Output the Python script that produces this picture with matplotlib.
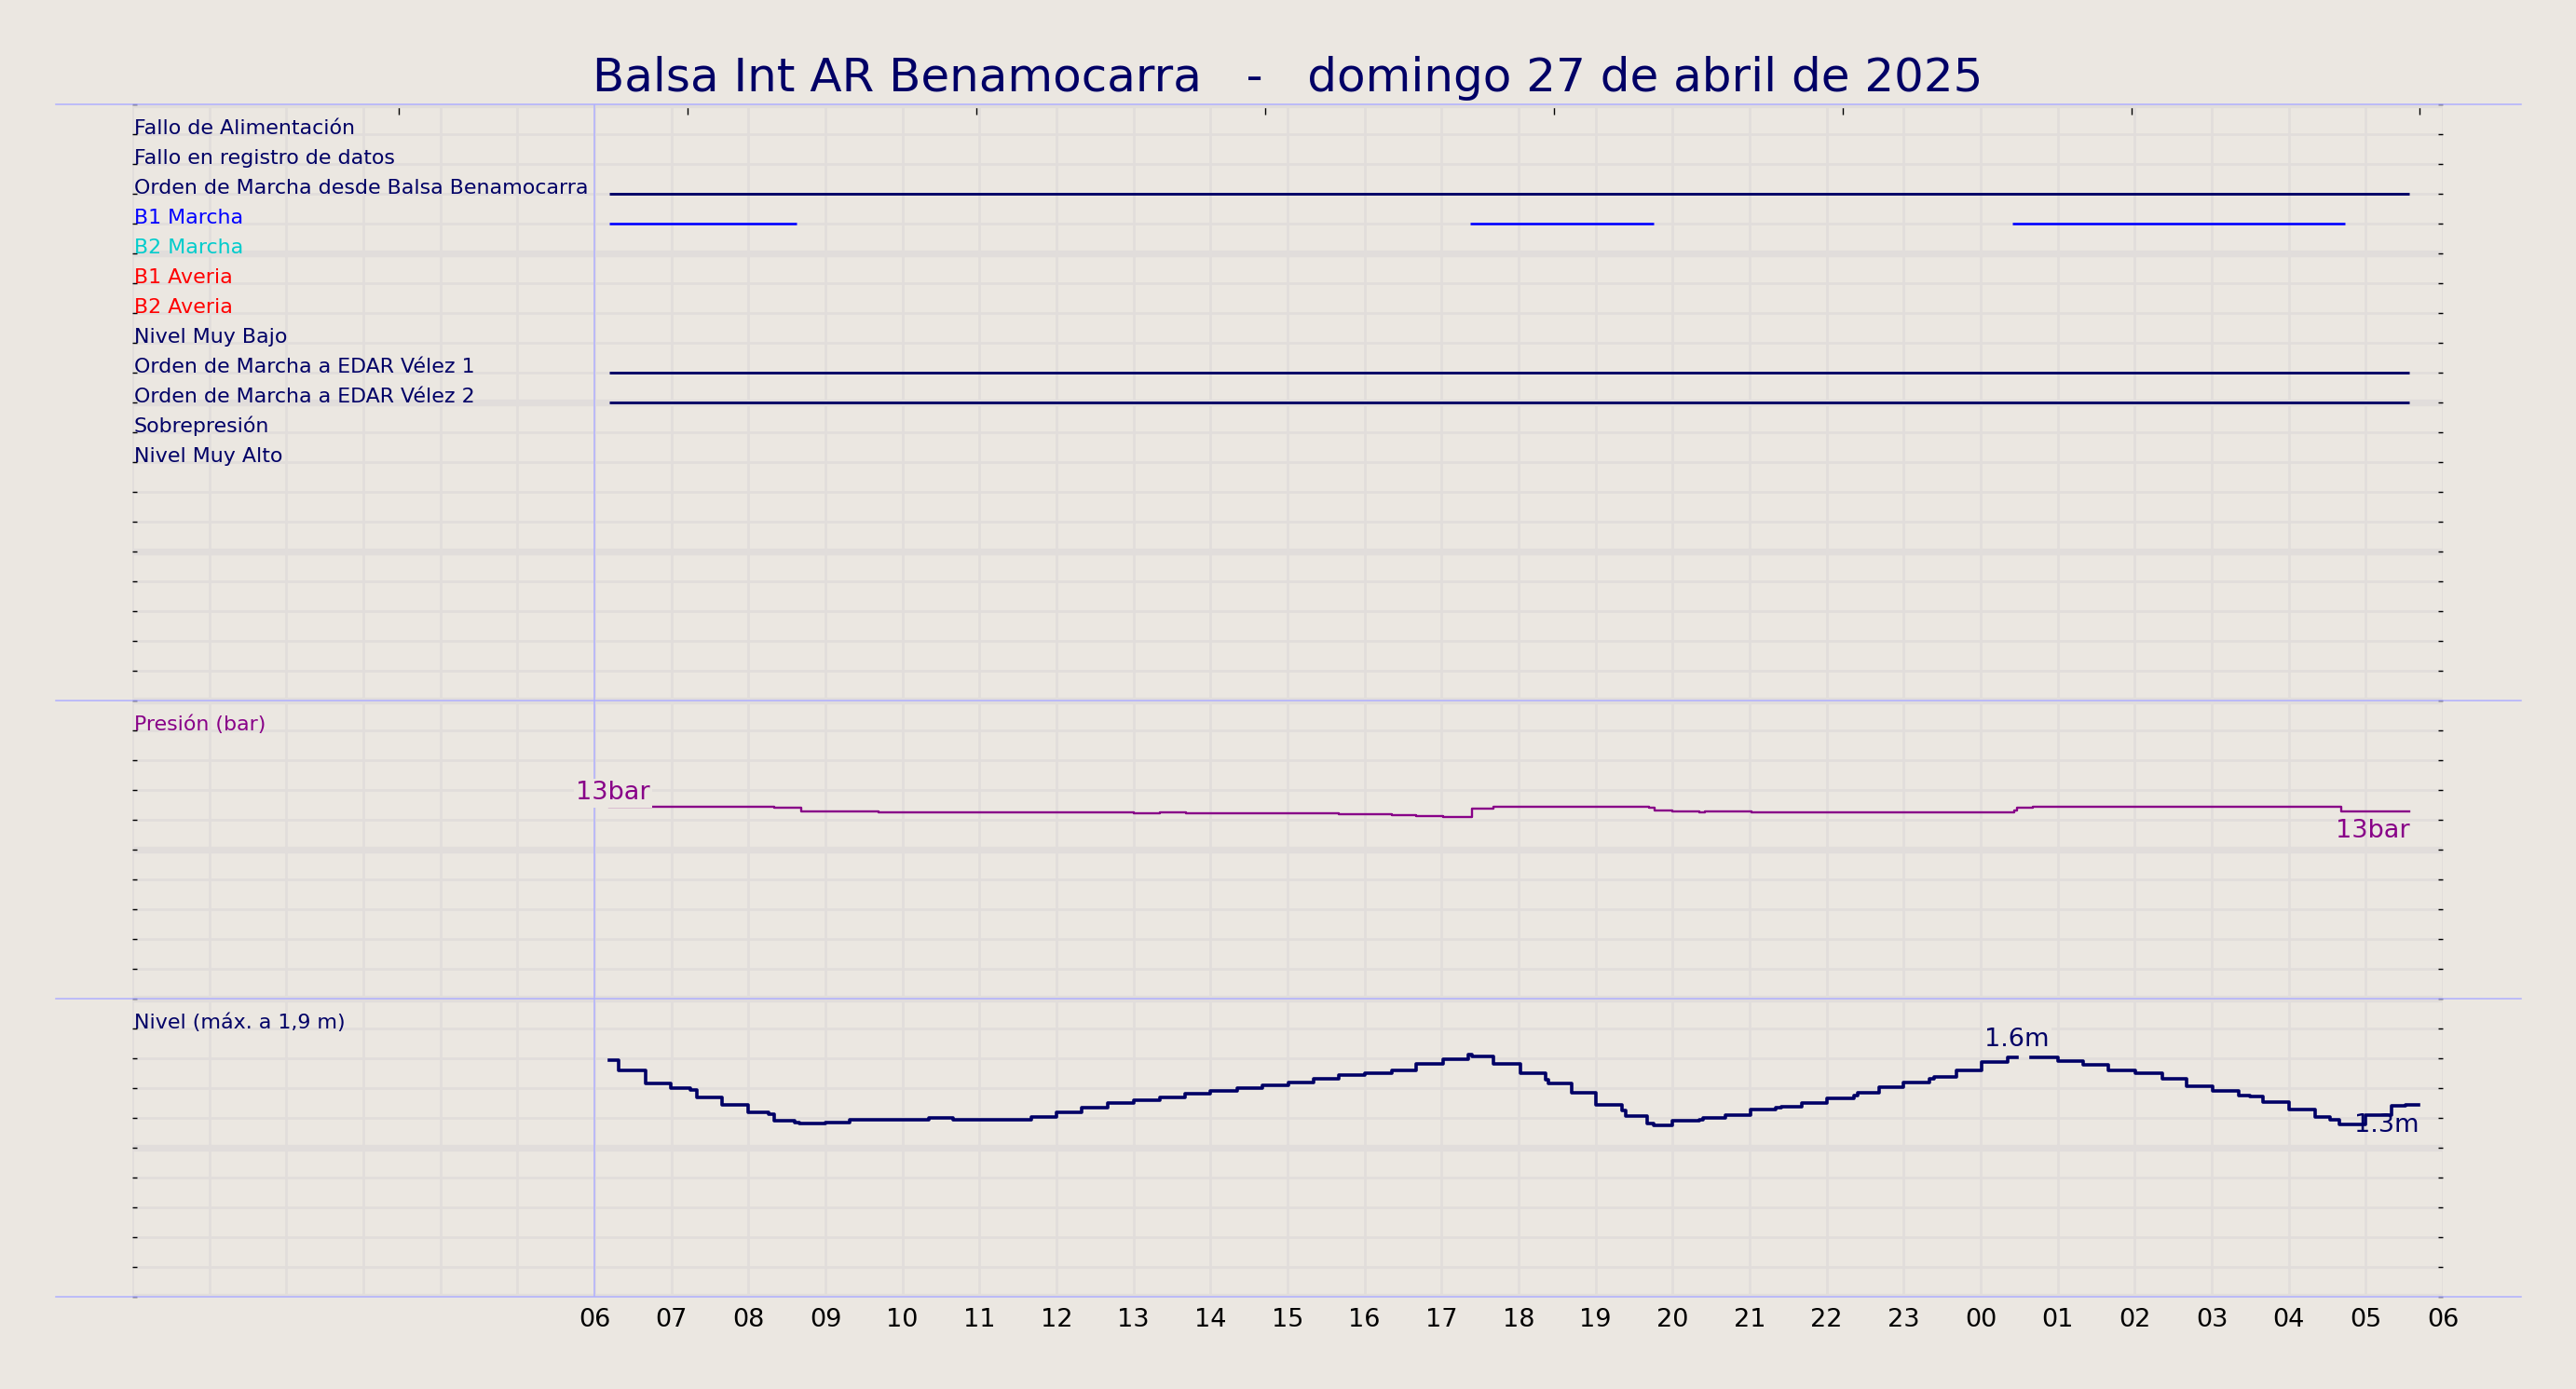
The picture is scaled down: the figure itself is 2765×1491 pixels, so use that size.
import numpy as np
import matplotlib
matplotlib.use("Agg")
import matplotlib.pyplot as plt
from matplotlib.lines import Line2D
from matplotlib.transforms import blended_transform_factory

# ---------------- data ----------------
title = "Balsa Int AR Benamocarra   -   domingo 27 de abril de 2025"

signal_names = ["Fallo de Alimentación", "Fallo en registro de datos",
                "Orden de Marcha desde Balsa Benamocarra", "B1 Marcha", "B2 Marcha",
                "B1 Averia", "B2 Averia", "Nivel Muy Bajo",
                "Orden de Marcha a EDAR Vélez 1", "Orden de Marcha a EDAR Vélez 2",
                "Sobrepresión", "Nivel Muy Alto"]
signal_colors = ["#000066", "#000066", "#000066", "#0000FF", "#00CCCC",
                 "#FF0000", "#FF0000", "#000066", "#000066", "#000066",
                 "#000066", "#000066"]
# active intervals (hours after 06:00)
signal_on = [[], [], [(0.19, 23.56)],
             [(0.19, 2.63), (11.37, 13.76), (18.41, 22.73)],
             [], [], [], [], [(0.19, 23.56)], [(0.19, 23.56)], [], []]

hour_labels = ["06", "07", "08", "09", "10", "11", "12", "13", "14", "15", "16", "17",
               "18", "19", "20", "21", "22", "23", "00", "01", "02", "03", "04", "05", "06"]
top_ticks = [-2.54, 1.21, 4.96, 8.71, 12.46, 16.21, 19.96, 23.70]

pres_t = [0.19, 2.34, 2.69, 3.69, 7.00, 7.34, 7.68, 9.67, 10.36, 10.67, 11.02, 11.40,
          11.67, 13.69, 13.77, 14.00, 14.35, 14.42, 15.03, 18.44, 18.47, 18.68, 22.68, 23.57]
pres_v = [12.875, 12.79, 12.56, 12.48, 12.42, 12.50, 12.44, 12.375, 12.29, 12.23, 12.17, 12.73,
          12.875, 12.79, 12.625, 12.54, 12.48, 12.54, 12.48, 12.625, 12.79, 12.875, 12.54, 12.54]

lvl_t = [0.19, 0.32, 0.67, 0.99, 1.24, 1.335, 1.66, 2.00, 2.26, 2.34, 2.60, 2.66, 3.00, 3.32,
         4.34, 4.66, 5.67, 6.00, 6.33, 6.67, 7.00, 7.34, 7.67, 8.00, 8.35, 8.67, 9.01, 9.34,
         9.67, 10.01, 10.35, 10.67, 11.02, 11.35, 11.40, 11.67, 12.02, 12.35, 12.39, 12.69,
         13.00, 13.34, 13.39, 13.67, 13.75, 14.00, 14.35, 14.39, 14.68, 15.01, 15.34, 15.41,
         15.68, 16.00, 16.35, 16.40, 16.68, 17.00, 17.34, 17.40, 17.68, 18.01, 18.35, 18.47,
         18.65, 19.00, 19.33, 19.66, 20.01, 20.36, 20.67, 21.01, 21.35, 21.50, 21.67, 22.00,
         22.34, 22.54, 22.66, 23.00, 23.33, 23.52, 23.69]
lvl_v = [1.59, 1.52, 1.43, 1.40, 1.39, 1.34, 1.29, 1.24, 1.225, 1.18, 1.17, 1.16, 1.17, 1.19,
         1.20, 1.19, 1.205, 1.235, 1.27, 1.30, 1.32, 1.34, 1.36, 1.383, 1.40, 1.42, 1.44, 1.46,
         1.49, 1.50, 1.52, 1.56, 1.595, 1.625, 1.615, 1.56, 1.50, 1.455, 1.43, 1.37,
         1.29, 1.25, 1.215, 1.16, 1.15, 1.18, 1.19, 1.20, 1.22, 1.255, 1.267, 1.277,
         1.302, 1.333, 1.352, 1.367, 1.404, 1.435, 1.46, 1.473, 1.517, 1.577, 1.608, np.nan,
         1.608, 1.583, 1.554, 1.517, 1.498, 1.46, 1.415, 1.381, 1.352, 1.342, 1.304, 1.256,
         1.206, 1.19, 1.158, 1.221, 1.279, 1.29, 1.29]

# ---------------- style ----------------
BG = "#EBE7E1"
GRID = "#E1DDDB"
NAVY = "#000066"
PURPLE = "#880088"
LBLUE = "#B0B0FF"
LABEL_FS = 15.9

fig = plt.figure(figsize=(27.65, 14.91), dpi=100)
fig.patch.set_facecolor(BG)
ax = fig.add_axes([142 / 2765, 1 - 1392 / 1491, (2622 - 142) / 2765, (1392 - 112) / 1491])
ax.set_facecolor(BG)
ax.set_xlim(-6, 24)
ax.set_ylim(0, 40)
for s in ax.spines.values():
    s.set_visible(False)
ax.set_axisbelow(True)

ax.set_yticks(range(0, 41, 5))
ax.set_yticks(range(0, 41), minor=True)
ax.grid(which="major", axis="y", color=GRID, lw=5.3)
ax.grid(which="minor", axis="y", color=GRID, lw=2)
xt = list(range(-6, 25))
ax.set_xticks(xt, labels=[""] * 6 + hour_labels)
ax.grid(which="major", axis="x", color=GRID, lw=2)
ax.tick_params(axis="y", which="both", direction="in", length=3.6, width=1,
               left=True, right=True, labelleft=False, color="black")
ax.tick_params(axis="x", length=0, pad=9, labelsize=19.5, labelcolor="black")

sec = ax.secondary_xaxis("top")
sec.set_xticks(top_ticks, labels=[""] * len(top_ticks))
sec.tick_params(direction="in", length=8, width=1, color="black")
for s in sec.spines.values():
    s.set_visible(False)

# panel separators
trans = blended_transform_factory(fig.transFigure, ax.transData)
for yb in [0, 10, 20, 40]:
    fig.add_artist(Line2D([60 / 2765, 2706 / 2765], [yb, yb], transform=trans,
                          color=LBLUE, lw=1.1))
ax.axvline(0, color=LBLUE, lw=1.1, zorder=1.5)

# digital signals
for i, (name, col, ons) in enumerate(zip(signal_names, signal_colors, signal_on)):
    yrow = 39 - i
    ax.text(-5.98, yrow, name, ha="left", va="baseline", fontsize=LABEL_FS, color=col)
    for (a, b) in ons:
        ax.hlines(yrow, a, b, color=col, lw=2.1 if col == NAVY else 1.9)

# pressure panel
ax.text(-5.98, 19, "Presión (bar)", ha="left", va="baseline", fontsize=LABEL_FS, color=PURPLE)
pres_y = 10 + np.array(pres_v) / 2.0
ax.plot(pres_t, pres_y, drawstyle="steps-post", color=PURPLE, lw=1.7, zorder=3)
ax.text(0.72, pres_y[0] + 0.05, f"{pres_v[0]:.0f}bar", ha="right", va="bottom",
        fontsize=19.5, color=PURPLE, zorder=4,
        bbox=dict(boxstyle="square,pad=0.08", fc=BG, ec="none"))
ax.annotate(f"{pres_v[-1]:.0f}bar", (pres_t[-1], pres_y[-1]), xytext=(0, -5.8),
            textcoords="offset points", ha="right", va="top", fontsize=19.5,
            color=PURPLE, zorder=4)

# level panel
ax.text(-5.98, 9, "Nivel (máx. a 1,9 m)", ha="left", va="baseline", fontsize=LABEL_FS, color=NAVY)
lvl_y = np.array(lvl_v) * 5.0
ax.plot(lvl_t, lvl_y, drawstyle="steps-post", color=NAVY, lw=2.6, zorder=3)
imax = int(np.nanargmax(lvl_v))
ax.annotate(f"{np.nanmax(lvl_v):.1f}m", (18.47, lvl_y[imax]), xytext=(0, 2.4),
            textcoords="offset points", ha="center", va="bottom", fontsize=19.5,
            color=NAVY, zorder=4,
            bbox=dict(boxstyle="square,pad=0.08", fc=BG, ec="none"))
ax.annotate(f"{lvl_v[-1]:.1f}m", (lvl_t[-1], lvl_y[-1]), xytext=(0, -6.8),
            textcoords="offset points", ha="right", va="top", fontsize=19.5,
            color=NAVY, zorder=4)

fig.text(0.5, 1 - 98 / 1491, title, ha="center", va="baseline", fontsize=36, color=NAVY)

fig.savefig("out.png", dpi=100, facecolor=BG)
